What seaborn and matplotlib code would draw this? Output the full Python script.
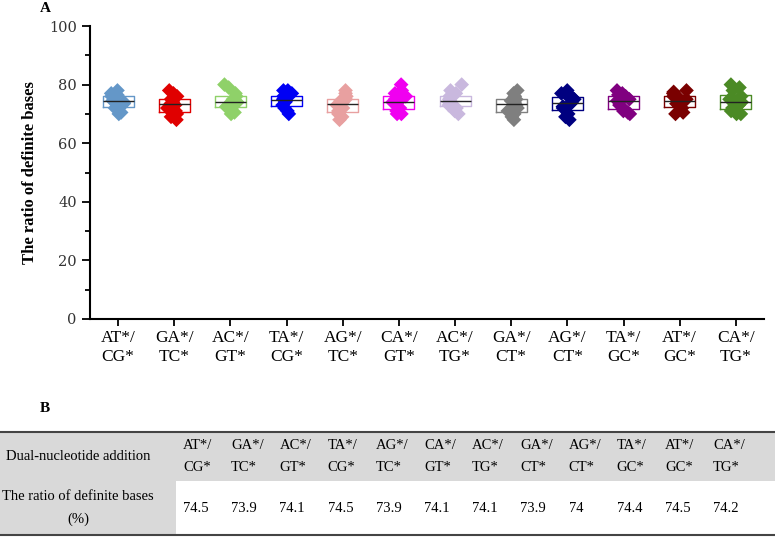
import numpy as np
import pandas as pd
import matplotlib
matplotlib.use("Agg")
import matplotlib.pyplot as plt
from matplotlib.patches import Rectangle
from matplotlib.ticker import MultipleLocator
import seaborn as sns

# --- data ---
pairs = ["AT*/\nCG*", "GA*/\nTC*", "AC*/\nGT*", "TA*/\nCG*", "AG*/\nTC*", "CA*/\nGT*",
         "AC*/\nTG*", "GA*/\nCT*", "AG*/\nCT*", "TA*/\nGC*", "AT*/\nGC*", "CA*/\nTG*"]

at_cg = [70, 70.5, 72, 72.5, 73.5, 74, 74.5, 75, 76, 76.5, 77, 78]
ga_tc = [68, 69, 70, 71, 72, 73, 73.5, 74, 75, 76, 77, 78]
ac_gt = [70, 70.5, 72, 72.5, 73, 74, 74, 75, 76, 77, 79, 80]
ta_cg = [70, 71, 72, 73, 74, 74.5, 75, 76, 76, 77, 78, 78]
ag_tc = [68, 69, 70, 71, 72, 73, 74, 74.5, 75, 76, 77, 78]
ca_gt = [70, 70, 71, 72, 73, 74, 74, 75, 76, 77, 78, 80]
ac_tg = [70, 71, 72, 73, 74, 74, 74.5, 75, 76, 77, 78, 80]
ga_ct = [68, 69, 70, 71, 72, 73, 74, 74.5, 75, 76, 77, 78]
ag_ct = [68, 69, 70, 72, 72.5, 73.5, 74, 75, 75.5, 76, 77, 78]
ta_gc = [70, 70.5, 71, 72, 73, 74, 74.5, 75, 76, 76.5, 77, 78]
at_gc = [70, 70.5, 72, 72.5, 73.5, 74, 75, 75.5, 76, 77, 77.5, 78]
ca_tg = [70, 70, 71, 72, 73, 74, 74, 75, 76, 78, 79, 80]

groups = [at_cg, ga_tc, ac_gt, ta_cg, ag_tc, ca_gt, ac_tg, ga_ct, ag_ct, ta_gc, at_gc, ca_tg]

colors = ["#6497c8", "#e00000", "#8fd169", "#0000f5", "#e8a0a0", "#f000f0",
          "#c9b8de", "#7f7f7f", "#000080", "#800080", "#7a0000", "#4b8a25"]

# table (panel B)
table_header = "Dual-nucleotide addition"
table_rowlabel = "The ratio of definite bases\n(%)"
table_values = ["74.5", "73.9", "74.1", "74.5", "73.9", "74.1",
                "74.1", "73.9", "74", "74.4", "74.5", "74.2"]

df = pd.DataFrame({
    "pair": np.repeat(pairs, [len(g) for g in groups]),
    "ratio": np.concatenate(groups),
})

plt.rcParams["font.family"] = ["Liberation Serif", "DejaVu Serif"]

fig = plt.figure(figsize=(7.75, 5.38), dpi=100)
ax = fig.add_axes([90 / 775, 1 - 319 / 538, 674 / 775, 293 / 538])

pal = dict(zip(pairs, colors))
np.random.seed(3)
sns.stripplot(data=df, x="pair", y="ratio", hue="pair", palette=pal, order=pairs,
              marker="D", size=7.5, jitter=0.13, linewidth=0, legend=False, ax=ax, zorder=2)
for p, c in zip(pairs, colors):
    sns.boxplot(data=df[df["pair"] == p], x="pair", y="ratio", order=pairs,
                fill=False, color=c, linecolor=c, width=0.55, whis=(0, 100),
                showcaps=False, linewidth=1, medianprops={"color": "#222222"},
                whiskerprops={"linewidth": 0}, showfliers=False, ax=ax)
for art in ax.patches:
    art.set_zorder(3)
for ln in ax.lines:
    ln.set_zorder(3)

ax.set_ylim(0, 100)
ax.set_xlim(-0.5, 11.5)
ax.yaxis.set_major_locator(MultipleLocator(20))
ax.yaxis.set_minor_locator(MultipleLocator(10))
ax.tick_params(axis="y", which="major", length=6, width=1.3, labelsize=10.5, labelcolor="#333333")
ax.tick_params(axis="y", which="minor", length=3.5, width=1.3)
ax.tick_params(axis="x", length=5, width=1.3, labelsize=12.5, pad=3)
for lab in ax.get_yticklabels():
    lab.set_fontfamily("DejaVu Serif")
for s in ["top", "right"]:
    ax.spines[s].set_visible(False)
for s in ["left", "bottom"]:
    ax.spines[s].set_linewidth(1.5)
ax.set_xlabel("")
ax.set_ylabel("The ratio of definite bases", fontsize=12, fontweight="bold", labelpad=8)

fig.text(40 / 775, 1 - 9 / 538, "A", fontsize=11, fontweight="bold", ha="left", va="center")
fig.text(40 / 775, 1 - 408 / 538, "B", fontsize=11, fontweight="bold", ha="left", va="center")

# --- panel B table drawn in pixel coordinates ---
tax = fig.add_axes([0, 0, 1, 1], zorder=-1)
tax.set_xlim(0, 775)
tax.set_ylim(538, 0)
tax.axis("off")

top, mid, bot = 432, 481, 535
first_w = 176
tax.add_patch(Rectangle((0, top), 775, mid - top, color="#d9d9d9", lw=0))
tax.add_patch(Rectangle((0, mid), first_w, bot - mid, color="#d9d9d9", lw=0))
tax.plot([0, 775], [top, top], color="#444444", lw=1.5)
tax.plot([0, 775], [bot, bot], color="#444444", lw=1.5)

tax.text(first_w / 2 - 10, (top + mid) / 2, table_header, fontsize=10.5, ha="center", va="center")
tax.text(first_w / 2 - 10, (mid + bot) / 2, table_rowlabel, fontsize=10.5, ha="center", va="center",
         linespacing=1.9)
col_x0, col_dx = 183, 48.2
for i, (p, v) in enumerate(zip(pairs, table_values)):
    x = col_x0 + i * col_dx
    tax.text(x, (top + mid) / 2, p, fontsize=10.5, ha="left", va="center", linespacing=1.9)
    tax.text(x, (mid + bot) / 2 + 1, v, fontsize=10.5, ha="left", va="center")

fig.savefig("out.png", dpi=100)
